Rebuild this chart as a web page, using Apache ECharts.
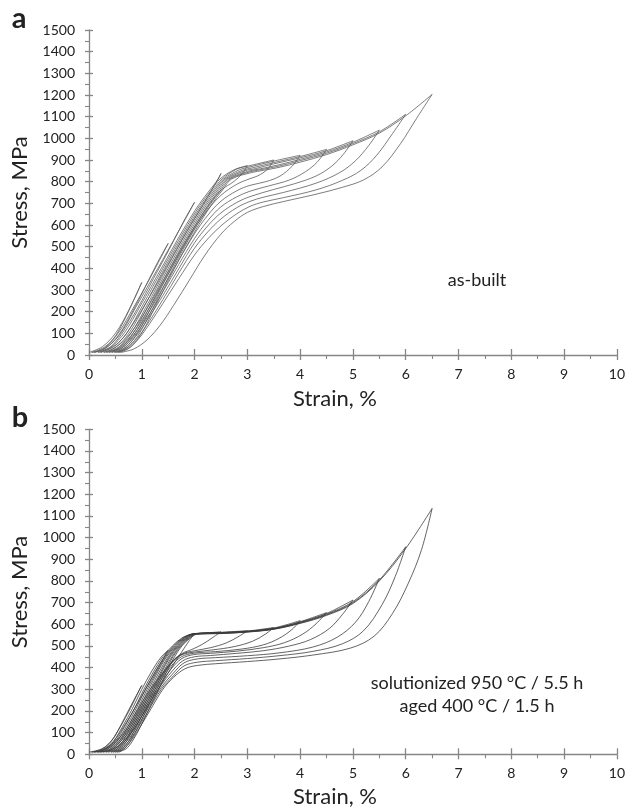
<!DOCTYPE html>
<html>
<head>
<meta charset="utf-8">
<script src="https://cdn.jsdelivr.net/npm/echarts@6/dist/echarts.min.js"></script>
<style>
html,body{margin:0;padding:0;background:#fff;}
#chart{width:628px;height:808px;}
</style>
</head>
<body>
<div id="chart"></div>
<script>
// ---- Panel a (as-built): loading curves [strain %, stress MPa]
const aLoading = [
  [[0,12],[0.25,38],[0.5,100],[0.75,205],[1.0,335]],
  [[0.05,12],[0.3,38],[0.55,100],[0.85,222],[1.15,352],[1.5,515]],
  [[0.1,12],[0.35,38],[0.6,100],[0.9,226],[1.3,398],[1.7,572],[2.0,705]],
  [[0.17,12],[0.42,38],[0.67,102],[0.97,226],[1.37,400],[1.77,572],[2.07,690],[2.3,765],[2.45,812],[2.5,838]],
  [[0.22,12],[0.47,38],[0.72,102],[1.01,226],[1.4,400],[1.8,572],[2.1,690],[2.33,765],[2.48,812],[2.75,855],[3.0,874]],
  [[0.28,12],[0.52,38],[0.76,102],[1.05,226],[1.43,400],[1.83,572],[2.13,690],[2.36,765],[2.52,812],[2.8,858],[3.05,874],[3.5,900]],
  [[0.33,12],[0.57,38],[0.8,102],[1.09,226],[1.47,400],[1.86,572],[2.16,690],[2.39,765],[2.55,812],[2.85,855],[3.05,868],[3.5,895],[4.0,922]],
  [[0.38,12],[0.62,38],[0.84,102],[1.12,226],[1.5,400],[1.89,572],[2.19,690],[2.42,765],[2.58,812],[2.9,852],[3.1,864],[3.5,888],[4.0,916],[4.5,949]],
  [[0.43,12],[0.66,38],[0.88,102],[1.16,226],[1.53,400],[1.92,572],[2.22,690],[2.45,765],[2.61,812],[2.95,850],[3.15,860],[3.5,882],[4.0,910],[4.5,943],[5.0,989]],
  [[0.48,12],[0.71,38],[0.92,102],[1.19,226],[1.56,400],[1.95,572],[2.25,690],[2.48,765],[2.64,812],[3.0,847],[3.2,857],[3.6,878],[4.0,903],[4.5,937],[5.0,982],[5.5,1038]],
  [[0.52,12],[0.75,38],[0.96,102],[1.23,226],[1.59,400],[1.98,572],[2.28,690],[2.51,765],[2.67,812],[3.04,845],[3.25,855],[3.6,872],[4.0,897],[4.5,931],[5.0,976],[5.5,1030],[6.0,1111]],
  [[0.56,12],[0.79,38],[1.0,102],[1.26,226],[1.62,400],[2.01,572],[2.31,690],[2.54,765],[2.7,812],[3.08,842],[3.3,852],[3.6,866],[4.0,890],[4.5,925],[5.0,970],[5.5,1024],[6.0,1104],[6.5,1203]]
];
// ---- Panel a: unloading curves
const aUnloading = [
  [[1.0,335],[0.85,255],[0.65,152],[0.45,70],[0.25,25],[0.05,12]],
  [[1.5,515],[1.3,428],[1.06,312],[0.82,198],[0.57,95],[0.32,32],[0.1,12]],
  [[2.0,705],[1.8,620],[1.52,488],[1.22,352],[0.92,216],[0.62,98],[0.4,36],[0.17,12]],
  [[2.5,838],[2.35,772],[2.15,690],[1.85,570],[1.5,420],[1.15,270],[0.85,150],[0.55,55],[0.22,12]],
  [[3.0,874],[2.9,836],[2.75,802],[2.5,760],[2.3,702],[2.05,612],[1.7,470],[1.35,320],[1.0,175],[0.7,75],[0.45,28],[0.28,12]],
  [[3.5,900],[3.38,857],[3.2,827],[3.05,814],[2.8,788],[2.5,737],[2.25,670],[2.0,585],[1.7,460],[1.4,330],[1.1,200],[0.8,90],[0.55,32],[0.33,12]],
  [[4.0,922],[3.85,872],[3.62,826],[3.35,800],[3.05,783],[2.8,758],[2.5,710],[2.25,645],[2.0,560],[1.7,438],[1.4,310],[1.1,185],[0.85,95],[0.6,35],[0.38,12]],
  [[4.5,949],[4.33,892],[4.1,846],[3.8,808],[3.4,780],[3.05,756],[2.8,730],[2.5,684],[2.25,620],[2.0,538],[1.7,418],[1.4,292],[1.1,172],[0.85,85],[0.62,32],[0.43,12]],
  [[5.0,989],[4.82,927],[4.6,872],[4.3,826],[3.9,791],[3.5,764],[3.05,731],[2.8,704],[2.5,656],[2.25,596],[2.0,518],[1.7,398],[1.4,275],[1.1,160],[0.88,85],[0.66,30],[0.48,12]],
  [[5.5,1038],[5.3,967],[5.05,897],[4.75,842],[4.3,793],[3.68,750],[3.3,728],[3.05,709],[2.8,680],[2.5,628],[2.25,568],[2.0,493],[1.7,378],[1.4,256],[1.15,158],[0.92,80],[0.7,30],[0.52,12]],
  [[6.0,1111],[5.75,1022],[5.45,922],[5.15,852],[4.8,806],[4.3,762],[3.68,726],[3.3,706],[3.05,686],[2.8,652],[2.5,596],[2.25,536],[2.0,462],[1.7,352],[1.4,238],[1.15,145],[0.95,78],[0.74,28],[0.56,12]],
  [[6.5,1203],[6.2,1090],[5.9,975],[5.55,868],[5.2,808],[4.8,774],[4.3,742],[3.68,708],[3.3,685],[3.0,658],[2.75,616],[2.5,558],[2.2,462],[1.9,345],[1.6,228],[1.35,138],[1.1,70],[0.85,28],[0.6,12]]
];
// ---- Panel b (solutionized + aged): loading curves
const bLoading = [
  [[0,10],[0.24,25],[0.42,60],[0.6,130],[0.78,210],[0.96,300],[1.0,318]],
  [[0.05,10],[0.28,25],[0.46,60],[0.64,130],[0.82,210],[1.0,300],[1.18,380],[1.37,450],[1.5,480]],
  [[0.1,10],[0.32,25],[0.5,60],[0.68,130],[0.86,210],[1.04,300],[1.22,380],[1.4,450],[1.58,500],[1.76,537],[1.94,555],[2.0,558]],
  [[0.16,10],[0.36,25],[0.53,60],[0.71,130],[0.89,210],[1.07,300],[1.25,380],[1.43,450],[1.6,500],[1.78,537],[1.95,555],[2.25,561],[2.5,565]],
  [[0.22,10],[0.41,25],[0.57,60],[0.74,130],[0.92,210],[1.1,300],[1.28,380],[1.45,450],[1.62,500],[1.8,537],[1.96,555],[2.5,563],[3.0,570]],
  [[0.27,10],[0.45,25],[0.6,60],[0.77,130],[0.95,210],[1.13,300],[1.3,380],[1.47,450],[1.64,500],[1.81,537],[1.97,555],[2.5,562],[3.0,569],[3.5,585]],
  [[0.32,10],[0.5,25],[0.64,60],[0.8,130],[0.98,210],[1.16,300],[1.33,380],[1.5,450],[1.66,500],[1.83,537],[1.98,555],[2.5,561],[3.0,568],[3.5,583],[4.0,617]],
  [[0.37,10],[0.54,25],[0.68,60],[0.83,130],[1.01,210],[1.19,300],[1.36,380],[1.52,450],[1.68,500],[1.85,537],[1.99,555],[2.5,560],[3.0,567],[3.5,581],[4.0,612],[4.5,654]],
  [[0.42,10],[0.58,25],[0.71,60],[0.86,130],[1.04,210],[1.22,300],[1.38,380],[1.54,450],[1.7,500],[1.86,537],[2.01,555],[2.5,560],[3.0,566],[3.5,580],[4.0,610],[4.5,650],[5.0,712]],
  [[0.46,10],[0.62,25],[0.75,60],[0.9,130],[1.07,210],[1.25,300],[1.41,380],[1.57,450],[1.72,500],[1.88,537],[2.02,555],[2.5,559],[3.0,566],[3.5,579],[4.0,608],[4.5,647],[5.0,705],[5.5,812]],
  [[0.5,10],[0.66,25],[0.78,60],[0.94,130],[1.1,210],[1.28,300],[1.44,380],[1.59,450],[1.74,500],[1.9,537],[2.04,555],[2.5,558],[3.0,565],[3.5,578],[4.0,606],[4.5,644],[5.0,700],[5.5,805],[6.0,958]],
  [[0.54,10],[0.7,25],[0.82,60],[0.98,130],[1.14,210],[1.32,300],[1.47,380],[1.62,450],[1.76,500],[1.92,537],[2.06,555],[2.5,557],[3.0,564],[3.5,577],[4.0,604],[4.5,641],[5.0,696],[5.5,800],[6.0,950],[6.5,1135]]
];
// ---- Panel b: unloading curves
const bUnloading = [
  [[1.0,318],[0.85,250],[0.7,180],[0.55,110],[0.4,55],[0.22,20],[0.05,10]],
  [[1.5,480],[1.38,430],[1.2,355],[1.0,270],[0.8,185],[0.6,105],[0.42,45],[0.25,18],[0.1,10]],
  [[2.0,558],[1.9,525],[1.75,470],[1.55,395],[1.31,300],[1.06,200],[0.8,100],[0.6,45],[0.38,18],[0.16,10]],
  [[2.5,565],[2.35,540],[2.15,508],[1.95,484],[1.77,466],[1.58,430],[1.16,300],[0.91,200],[0.66,100],[0.42,45],[0.22,10]],
  [[3.0,570],[2.85,546],[2.6,514],[2.3,492],[2.0,478],[1.76,462],[1.55,420],[1.19,300],[0.94,200],[0.69,100],[0.46,45],[0.27,10]],
  [[3.5,585],[3.35,556],[3.1,522],[2.75,497],[2.35,482],[2.0,472],[1.74,457],[1.54,412],[1.22,300],[0.97,200],[0.72,100],[0.5,45],[0.32,10]],
  [[4.0,617],[3.85,577],[3.6,535],[3.3,505],[2.9,486],[2.4,474],[2.0,467],[1.75,450],[1.55,405],[1.25,300],[1.0,200],[0.75,100],[0.54,45],[0.37,10]],
  [[4.5,654],[4.3,602],[4.05,555],[3.7,515],[3.3,492],[2.8,476],[2.3,466],[1.98,460],[1.76,442],[1.56,395],[1.28,300],[1.03,200],[0.78,100],[0.58,45],[0.42,10]],
  [[5.0,712],[4.8,645],[4.55,580],[4.2,530],[3.8,500],[3.3,478],[2.8,466],[2.3,456],[2.0,450],[1.78,432],[1.58,385],[1.31,300],[1.06,200],[0.81,100],[0.62,45],[0.46,10]],
  [[5.5,812],[5.3,705],[5.05,610],[4.7,540],[4.24,495],[3.6,468],[3.0,455],[2.4,446],[2.05,440],[1.8,422],[1.6,375],[1.34,300],[1.09,200],[0.84,100],[0.66,45],[0.5,10]],
  [[6.0,958],[5.8,820],[5.55,690],[5.2,570],[4.8,510],[4.24,475],[3.6,455],[3.0,442],[2.4,432],[2.05,425],[1.8,408],[1.6,362],[1.37,300],[1.12,200],[0.87,100],[0.7,45],[0.54,10]],
  [[6.5,1135],[6.3,945],[6.05,790],[5.75,650],[5.4,545],[4.95,490],[4.24,458],[3.6,440],[3.0,428],[2.4,418],[2.05,410],[1.82,395],[1.6,355],[1.4,300],[1.15,200],[0.9,100],[0.74,45],[0.58,10]]
];

const xRange = [0, 10];      // strain, %
const yRange = [0, 1500];    // stress, MPa
const xStep = 1, yStep = 100;
const panelLetters = ['a', 'b'];
const xTitle = 'Strain, %';
const yTitle = 'Stress, MPa';
const noteA = ['as-built'];
const noteB = ['solutionized 950 °C / 5.5 h', 'aged 400 °C / 1.5 h'];

const FONT = 'Lato, "Open Sans", sans-serif';
const AXC = '#868686';
const TXT = '#222';
const LINE_A = '#5c5c5c';
const LINE_B = '#3c3c3c';

const grids = [
  {left: 89, width: 528.7, top: 30, height: 325},
  {left: 89, width: 528.7, top: 429.3, height: 325}
];

const plain = v => String(v);
const xAxes = [], yAxes = [];
grids.forEach((g, i) => {
  xAxes.push({
    gridIndex: i, type: 'value', min: xRange[0], max: xRange[1], interval: xStep, position: 'bottom',
    axisLine: {show: true, lineStyle: {color: AXC, width: 1.3}},
    axisTick: {show: true, inside: false, length: 5, lineStyle: {color: AXC, width: 1.3}},
    minorTick: {show: true, splitNumber: 2, length: 4, lineStyle: {color: AXC, width: 1.1}},
    axisLabel: {color: TXT, fontFamily: FONT, fontSize: 14, margin: 12, formatter: plain},
    splitLine: {show: false}
  });
  xAxes.push({
    gridIndex: i, type: 'value', min: xRange[0], max: xRange[1], interval: xStep, position: 'bottom',
    axisLine: {show: false},
    axisTick: {show: true, inside: true, length: 6, lineStyle: {color: AXC, width: 1.3}},
    axisLabel: {show: false}, splitLine: {show: false}
  });
  yAxes.push({
    gridIndex: i, type: 'value', min: yRange[0], max: yRange[1], interval: yStep, position: 'left',
    axisLine: {show: true, lineStyle: {color: AXC, width: 1.3}},
    axisTick: {show: true, inside: false, length: 4, lineStyle: {color: AXC, width: 1.3}},
    minorTick: {show: true, splitNumber: 2, length: 4, lineStyle: {color: AXC, width: 1.1}},
    axisLabel: {color: TXT, fontFamily: FONT, fontSize: 14, margin: 14, formatter: plain},
    splitLine: {show: false}
  });
  yAxes.push({
    gridIndex: i, type: 'value', min: yRange[0], max: yRange[1], interval: yStep, position: 'left',
    axisLine: {show: false},
    axisTick: {show: true, inside: true, length: 4, lineStyle: {color: AXC, width: 1.3}},
    axisLabel: {show: false}, splitLine: {show: false}
  });
});

const series = [];
function addCurves(curves, panel, color) {
  curves.forEach(c => {
    series.push({
      type: 'line', data: c, xAxisIndex: panel * 2, yAxisIndex: panel * 2,
      showSymbol: false, smooth: 0.35, silent: true,
      lineStyle: {color: color, width: 0.8}
    });
  });
}
addCurves(aLoading, 0, LINE_A); addCurves(aUnloading, 0, LINE_A);
addCurves(bLoading, 1, LINE_B); addCurves(bUnloading, 1, LINE_B);

function txt(text, x, y, size, opts) {
  return Object.assign({
    type: 'text', x: x, y: y, silent: true,
    style: {text: text, font: (opts && opts.bold ? 'bold ' : '') + size + 'px ' + FONT,
            fill: TXT, textAlign: 'center', textVerticalAlign: 'middle'}
  }, opts && opts.rotation ? {rotation: opts.rotation} : {});
}

const graphics = [
  txt(panelLetters[0], 19, 19, 29, {bold: true}),
  txt(panelLetters[1], 20, 418, 29, {bold: true}),
  txt(yTitle, 20, 192.5, 22, {rotation: Math.PI / 2}),
  txt(yTitle, 20, 592, 22, {rotation: Math.PI / 2}),
  txt(xTitle, 335, 399, 22),
  txt(xTitle, 335, 797, 22),
  txt(noteA[0], 477, 280, 18),
  txt(noteB[0], 477, 683, 18),
  txt(noteB[1], 477, 706, 18)
];

const chart = echarts.init(document.getElementById('chart'), null, {renderer: 'canvas'});
chart.setOption({
  animation: false,
  backgroundColor: '#fff',
  grid: grids,
  xAxis: xAxes,
  yAxis: yAxes,
  series: series,
  graphic: graphics
});
</script>
</body>
</html>
